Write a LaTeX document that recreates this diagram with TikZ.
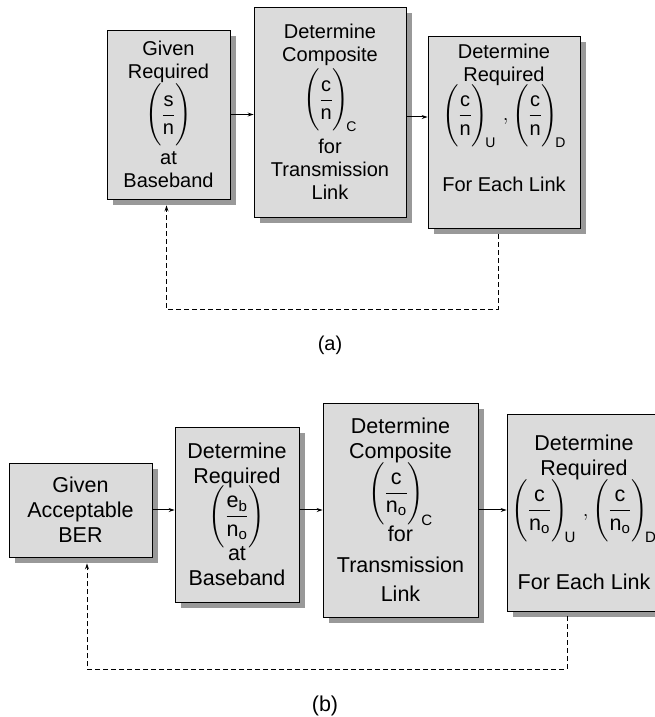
\documentclass[tikz,border=0pt]{standalone}
\usepackage{amsmath}
\usepackage{fontspec}
\setmainfont{Liberation Sans}
\usetikzlibrary{arrows.meta,shadows}

\definecolor{boxgray}{gray}{0.86}
\definecolor{shadegray}{gray}{0.6}
\newcommand{\rat}[2]{\left(\rule[-1.2em]{0pt}{2.9em}\dfrac{\text{#1}}{\text{#2}}\right)}
\newcommand{\sub}[1]{_{\kern-3pt\text{#1}}}

\begin{document}
\begin{tikzpicture}[x=1pt,y=1pt,
   block/.style={draw=black, line width=0.8pt, fill=boxgray, align=center, inner sep=0pt,
      font=\fontsize{20}{23}\selectfont,
      drop shadow={shadow xshift=6pt, shadow yshift=-6pt, fill=shadegray, opacity=1}},
   bigger/.style={font=\fontsize{21.5}{25}\selectfont},
   link/.style={line width=1pt, -{Stealth[length=6pt,width=4pt]}},
   feedback/.style={line width=1pt, dash pattern=on 5pt off 3pt, -{Stealth[length=6pt,width=4pt]}}]

   \useasboundingbox (0,0) rectangle (655,717);

   % (a)
   \node[block, minimum width=123pt, minimum height=169pt] (givenA) at (168.5,602.5)
      {Given\\Required\\$\rat{s}{n}$\\[4pt]at\\Baseband};
   \node[block, minimum width=152pt, minimum height=210pt] (compA) at (330,605)
      {Determine\\Composite\\[2pt]$\rat{c}{n}\sub{C}$\\[6pt]for\\Transmission\\Link};
   \node[block, minimum width=152pt, minimum height=192pt] (linkA) at (504,585)
      {Determine\\Required\\[-2pt]$\rat{c}{n}\sub{U}\,{,}\rat{c}{n}\sub{D}$\\[28pt]For Each Link\\[6pt]};

   \draw[link] (givenA.east) -- (givenA.east -| compA.west);
   \draw[link] ([yshift=-5pt]compA.east) -- ([yshift=-5pt]compA.east -| linkA.west);
   \draw[feedback] ([xshift=-6pt,yshift=-6pt]linkA.south) -- ++(0,-75) -| ([xshift=-2pt,yshift=-6pt]givenA.south);

   \node[font=\fontsize{20}{23}\selectfont] (capA) at (330,372) {(a)};

   % (b)
   \node[block, bigger, minimum width=143pt, minimum height=94pt] (berB) at (80.5,207)
      {Given\\Acceptable\\BER};
   \node[block, bigger, minimum width=124pt, minimum height=175pt] (reqB) at (237,202.5)
      {Determine\\Required\\[-4pt]$\rat{e$_\text{b}$}{n$_\text{o}$}$\\[-2pt]at\\Baseband};
   \node[block, bigger, minimum width=155pt, minimum height=214pt] (compB) at (400.5,207)
      {Determine\\Composite\\[-2pt]$\rat{c}{n$_\text{o}$}\sub{C}$\\for\\[6pt]Transmission\\[4pt]Link};
   \node[block, bigger, minimum width=154pt, minimum height=197pt] (linkB) at (584,204.5)
      {Determine\\Required\\[-2pt]$\rat{c}{n$_\text{o}$}\sub{U}\,{,}\rat{c}{n$_\text{o}$}\sub{D}$\\[30pt]For Each Link};

   \draw[link] (berB.east) -- (berB.east -| reqB.west);
   \draw[link] ([yshift=4.5pt]reqB.east) -- ([yshift=4.5pt]reqB.east -| compB.west);
   \draw[link] (compB.east) -- (compB.east -| linkB.west);
   \draw[feedback] ([xshift=-17pt,yshift=-5pt]linkB.south) -- ++(0,-53) -| ([xshift=6.5pt,yshift=-6pt]berB.south);

   \node[bigger] (capB) at (325,11) {(b)};
\end{tikzpicture}
\end{document}
